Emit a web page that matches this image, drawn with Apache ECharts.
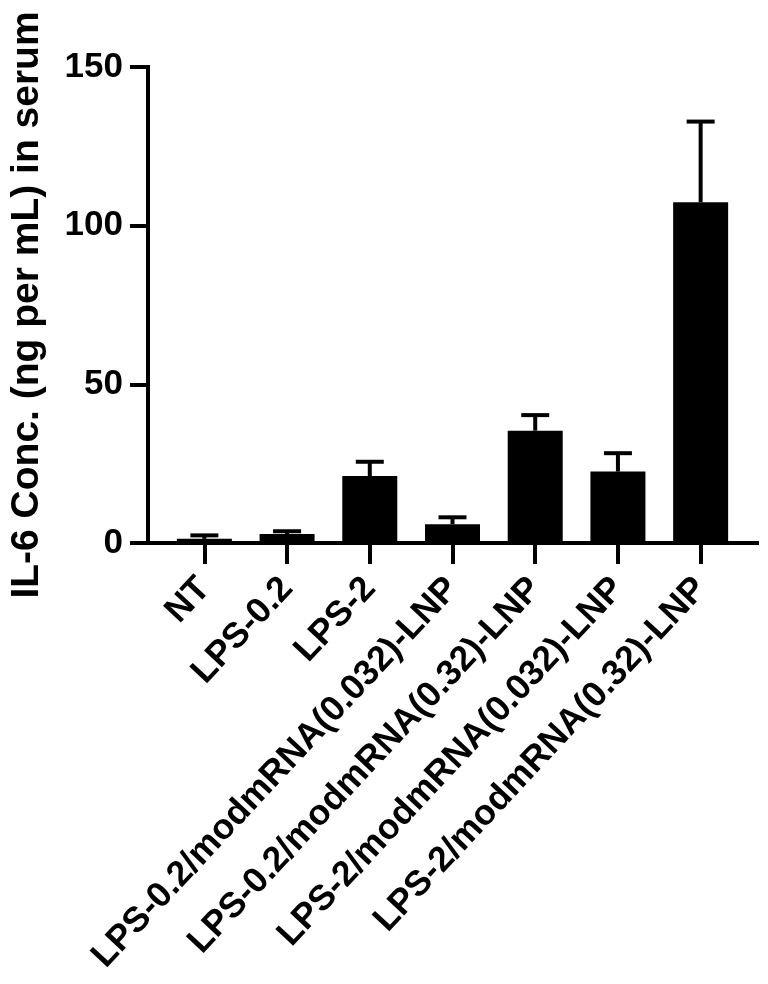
<!DOCTYPE html>
<html>
<head>
<meta charset="utf-8">
<script src="https://cdn.jsdelivr.net/npm/echarts@6/dist/echarts.min.js"></script>
<style>
  html, body { margin: 0; padding: 0; background: #fff; }
  #chart { width: 768px; height: 984px; }
</style>
</head>
<body>
<div id="chart"></div>
<script>
// ---- data ----
const categories = [
  'NT',
  'LPS-0.2',
  'LPS-2',
  'LPS-0.2/modmRNA(0.032)-LNP',
  'LPS-0.2/modmRNA(0.32)-LNP',
  'LPS-2/modmRNA(0.032)-LNP',
  'LPS-2/modmRNA(0.32)-LNP'
];
const means = [1.3, 2.8, 21.1, 5.9, 35.4, 22.5, 107.4];
const sds = [1.1, 0.9, 4.5, 2.2, 4.9, 5.8, 25.4];
const yTicks = [0, 50, 100, 150];
const yAxisTitle = 'IL-6 Conc. (ng per mL) in serum';

// ---- chart ----
const FONT = "'Liberation Sans', Arial, sans-serif";
const chart = echarts.init(document.getElementById('chart'), null, { renderer: 'canvas' });

const errData = means.map((m, i) => [i, m, m + sds[i]]);

const option = {
  backgroundColor: '#ffffff',
  animation: false,
  grid: [
    { left: 158, right: 26, top: 67, bottom: 441, containLabel: false },
    { left: 143, right: 11, top: 67, bottom: 441, containLabel: false }
  ],
  xAxis: [
    {
      type: 'category',
      gridIndex: 0,
      data: categories,
      boundaryGap: true,
      axisLine: { show: false },
      axisTick: {
        show: true,
        alignWithLabel: true,
        length: 21,
        lineStyle: { color: '#000', width: 4 }
      },
      axisLabel: {
        interval: 0,
        rotate: 47,
        margin: 40,
        color: '#000',
        fontFamily: FONT,
        fontWeight: 'bold',
        fontSize: 35.5
      },
      splitLine: { show: false }
    },
    {
      type: 'category',
      gridIndex: 1,
      data: categories,
      axisLine: { show: true, lineStyle: { color: '#000', width: 4, cap: 'square' } },
      axisTick: { show: false },
      axisLabel: { show: false },
      splitLine: { show: false }
    }
  ],
  yAxis: [
    {
      type: 'value',
      gridIndex: 0,
      min: yTicks[0],
      max: yTicks[yTicks.length - 1],
      interval: yTicks[1] - yTicks[0],
      offset: 15,
      name: yAxisTitle,
      nameLocation: 'middle',
      nameGap: 101,
      nameRotate: 90,
      nameTextStyle: {
        color: '#000',
        fontFamily: FONT,
        fontWeight: 'bold',
        fontSize: 39
      },
      axisLine: { show: true, lineStyle: { color: '#000', width: 4, cap: 'square' } },
      axisTick: { show: true, length: 18, lineStyle: { color: '#000', width: 4 } },
      axisLabel: {
        margin: 25,
        color: '#000',
        fontFamily: FONT,
        fontWeight: 'bold',
        fontSize: 35
      },
      splitLine: { show: false }
    },
    {
      type: 'value',
      gridIndex: 1,
      min: 0,
      max: 150,
      show: false
    }
  ],
  series: [
    {
      type: 'bar',
      xAxisIndex: 0,
      yAxisIndex: 0,
      data: means,
      barWidth: 55,
      itemStyle: { color: '#000' }
    },
    {
      type: 'custom',
      xAxisIndex: 0,
      yAxisIndex: 0,
      data: errData,
      z: 3,
      renderItem: function (params, api) {
        const x = api.value(0);
        const p0 = api.coord([x, api.value(1)]);
        const p1 = api.coord([x, api.value(2)]);
        const half = 14;
        const style = { stroke: '#000', lineWidth: 4, fill: null };
        return {
          type: 'group',
          children: [
            { type: 'line', shape: { x1: p0[0], y1: p0[1], x2: p1[0], y2: p1[1] }, style: style },
            { type: 'line', shape: { x1: p1[0] - half, y1: p1[1], x2: p1[0] + half, y2: p1[1] }, style: style }
          ]
        };
      }
    }
  ]
};
chart.setOption(option);
</script>
</body>
</html>
